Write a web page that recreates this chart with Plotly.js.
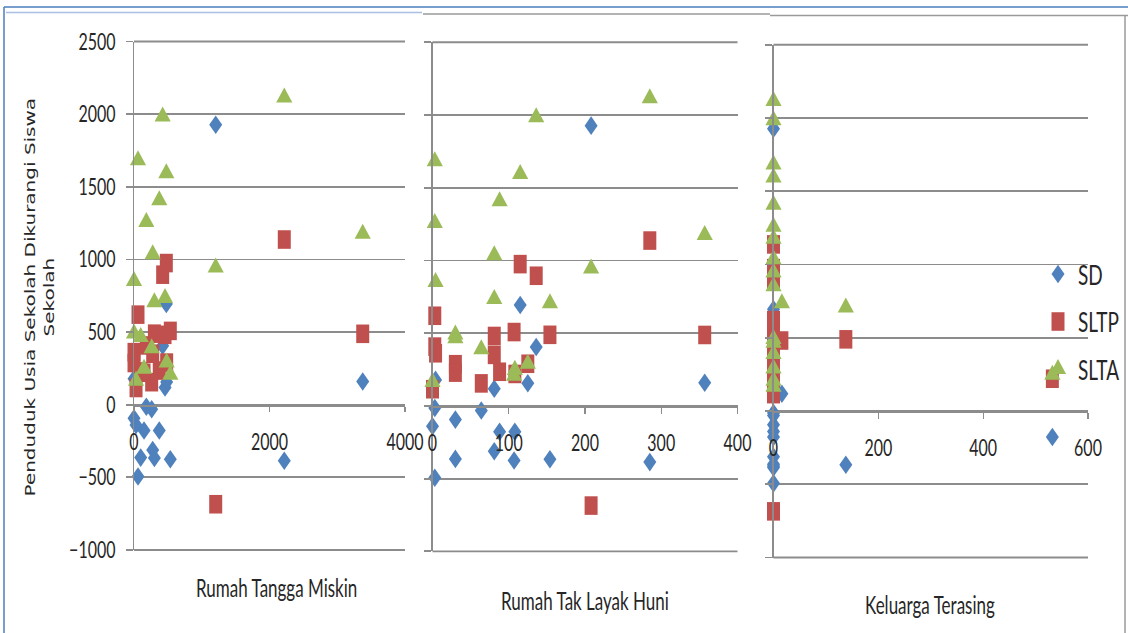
<!DOCTYPE html>
<html><head><meta charset="utf-8">
<script src="https://cdn.plot.ly/plotly-3.0.1.min.js"></script>
<style>
html,body{margin:0;padding:0;background:#fff;overflow:hidden;}
#wrap{width:1128px;height:633px;overflow:hidden;}
#chart{width:1128px;height:443px;transform:scaleY(1.428894);transform-origin:0 0;}
</style></head><body><div id="wrap"><div id="chart"></div></div>
<script>
// ---- data (one entry per district) ----
const rumahTanggaMiskin = [2218, 423, 59, 477, 373, 182, 3376, 276, 1206, 0, 458, 301, 0, 99, 261, 482, 148, 536, 30];
const rumahTakLayakHuni = [285, 136, 3, 115, 88, 3, 357, 81, 208, 4, 81, 154, 30, 30, 64, 125, 108, 107, 0];
const keluargaTerasing  = [0, 0, 0, 0, 0, 0, 0, 0, 0, 0, 16, 138, 0, 0, 0, 0, 532, 0, 0];
const sd   = [-386, 405, -494, 694, -178, -14, 160, -312, 1927, 179, 118, -367, -94, -364, -31, 156, -178, -375, -140];
const sltp = [1137, 895, 620, 975, 235, 408, 488, 351, -685, 362, 481, 489, 287, 229, 155, 290, 220, 508, 115];
const slta = [2115, 1984, 1683, 1594, 1408, 1258, 1176, 1036, 945, 852, 735, 706, 491, 466, 389, 290, 248, 207, 165];
const seriesNames = ['SD', 'SLTP', 'SLTA'];
const panelTitles = ['Rumah Tangga Miskin', 'Rumah Tak Layak Huni', 'Keluarga Terasing'];
const yTicks = [-1000, -500, 0, 500, 1000, 1500, 2000, 2500];
const xTicks1 = [0, 2000, 4000];
const xTicks2 = [0, 100, 200, 300, 400];
const xTicks3 = [0, 200, 400, 600];
const yTitle = 'Penduduk Usia Sekolah Dikurangi Siswa<br>Sekolah';

// ---- layout helpers (page pixels -> paper fractions) ----
const W = 1128, HP = 633, H = 443;
const px = v => v / W;
const py = v => 1 - v / HP;

const seriesValues = [sd, sltp, slta];
const panelX = [rumahTanggaMiskin, rumahTakLayakHuni, keluargaTerasing];
const panelTicks = [xTicks1, xTicks2, xTicks3];
const panelRanges = [[0, 4000], [0, 400], [0, 600]];
const Y_LO = yTicks[0], Y_HI = yTicks[yTicks.length - 1];
const panelGeom = [
  {x: [134, 405],   y: [41.5, 550.0], title: [276, 588]},
  {x: [432.5, 737.5], y: [42.3, 551.4], title: [585, 601]},
  {x: [773.5, 1088], y: [44.7, 557.5], title: [930, 605]}
];
const markerStyles = [
  {symbol: 'diamond', size: 10, color: '#4F81BD'},
  {symbol: 'square', size: 13, color: '#C0504D'},
  {symbol: 'triangle-up', size: 14, color: '#9BBB59'}
];

const FONT = 'Lato, "Open Sans", sans-serif';
const TXT = '#262626';
const GRID = '#8c8c8c';

const traces = [];
panelX.forEach((xs, p) => {
  seriesValues.forEach((ys, s) => {
    traces.push({
      type: 'scatter', mode: 'markers',
      x: xs, y: ys,
      xaxis: 'x' + (p + 1), yaxis: 'y' + (p + 1),
      name: seriesNames[s], legendgroup: seriesNames[s],
      showlegend: p === 0,
      cliponaxis: false,
      marker: {symbol: markerStyles[s].symbol, size: markerStyles[s].size,
               color: markerStyles[s].color, line: {width: 0}}
    });
  });
});

const layout = {
  width: W, height: H,
  margin: {l: 0, r: 0, t: 0, b: 0, pad: 0},
  paper_bgcolor: '#ffffff', plot_bgcolor: 'rgba(0,0,0,0)',
  font: {family: FONT, color: TXT},
  showlegend: true,
  legend: {x: px(1038), xanchor: 'left', y: py(247), yanchor: 'top',
           font: {family: FONT, size: 19, color: TXT},
           tracegroupgap: 5.6, traceorder: 'grouped', bgcolor: 'rgba(0,0,0,0)', itemsizing: 'trace'},
  annotations: [],
  shapes: []
};

panelGeom.forEach((g, p) => {
  const k = p === 0 ? '' : String(p + 1);
  const span = g.y[1] - g.y[0];
  const zeroPix = g.y[0] + ((Y_HI - 0) / (Y_HI - Y_LO)) * span;
  layout['xaxis' + k] = {
    domain: [px(g.x[0]), px(g.x[1])], range: panelRanges[p],
    tickmode: 'array', tickvals: panelTicks[p],
    anchor: 'free', position: py(zeroPix),
    showline: true, linecolor: GRID, linewidth: 1.3,
    ticks: 'outside', ticklen: 4, tickwidth: 1.3, tickcolor: GRID,
    showgrid: false, zeroline: false,
    tickfont: {family: FONT, size: 16, color: TXT},
    ticklabelstandoff: 7
  };
  layout['yaxis' + k] = {
    domain: [py(g.y[1]), py(g.y[0])], range: [Y_LO, Y_HI],
    tickmode: 'array', tickvals: yTicks,
    anchor: 'x' + k,
    showline: true, linecolor: GRID, linewidth: 1.3,
    ticks: 'outside', ticklen: 7, tickwidth: 1.3, tickcolor: GRID,
    showgrid: true, gridcolor: GRID, gridwidth: 1.3,
    zeroline: false,
    showticklabels: p === 0,
    tickfont: {family: FONT, size: 16, color: TXT},
    ticklabelstandoff: 7
  };
  // edge gridlines at the top and bottom of each plot area (unclipped)
  [g.y[0], g.y[1]].forEach(yy => {
    layout.shapes.push({
      type: 'line', xref: 'paper', yref: 'paper',
      x0: px(g.x[0]), x1: px(g.x[1]), y0: py(yy), y1: py(yy),
      line: {color: GRID, width: 1.3}
    });
  });
  layout.annotations.push({
    xref: 'paper', yref: 'paper', x: px(g.title[0]), y: py(g.title[1]),
    xanchor: 'center', yanchor: 'middle', showarrow: false,
    text: panelTitles[p], font: {family: FONT, size: 17, color: TXT}
  });
});

layout.annotations.push({
  xref: 'paper', yref: 'paper', x: px(39), y: py(298),
  xanchor: 'center', yanchor: 'middle', showarrow: false, textangle: -90,
  text: yTitle, font: {family: '"DejaVu Sans", sans-serif', size: 14, color: TXT}
});

// chart frames
const frameLine = (x0, y0, x1, y1, color, width) => ({
  type: 'line', xref: 'paper', yref: 'paper',
  x0: px(x0), y0: py(y0), x1: px(x1), y1: py(y1),
  line: {color: color, width: width}
});
layout.shapes.push(frameLine(4, 7, 1128, 7, '#4a7ebb', 1.2));
layout.shapes.push(frameLine(4, 7, 4, 633, '#4a7ebb', 1.5));
layout.shapes.push(frameLine(6, 12.5, 422, 12.5, '#a9c0e2', 1.2));
layout.shapes.push(frameLine(423, 14, 770, 14, '#9a9a9a', 1.2));
layout.shapes.push(frameLine(770, 15.5, 1128, 15.5, '#9a9a9a', 1.2));
layout.shapes.push(frameLine(1125, 15.5, 1125, 633, '#9a9a9a', 1.5));

Plotly.newPlot('chart', traces, layout, {staticPlot: true, displayModeBar: false});
</script></body></html>
